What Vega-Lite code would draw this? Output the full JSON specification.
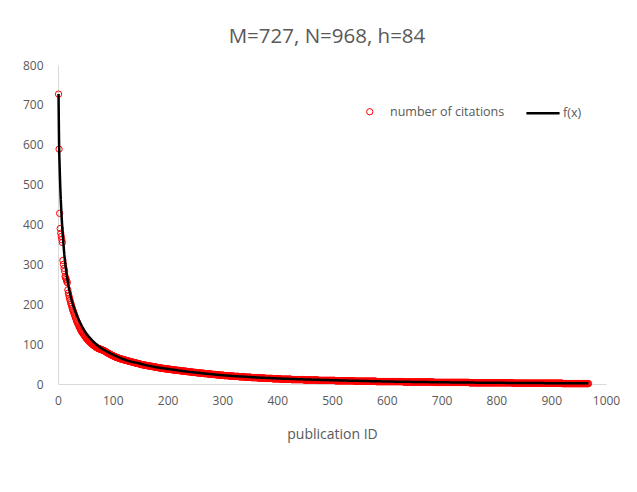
{
"$schema": "https://vega.github.io/schema/vega-lite/v6.json",
"width": 548, "height": 319,
"autosize": "none",
"padding": {"left": 58, "top": 65, "right": 31, "bottom": 108},
"background": "white",
"config": {"view": {"stroke": null}, "font": "Open Sans", "axisY": {"labelOverlap": false}, "axisX": {"labelOverlap": false}},
"title": {"text": "M=727, N=968, h=84", "fontSize": 20.5, "fontWeight": "normal", "color": "#595959", "font": "Open Sans", "anchor": "middle", "frame": "group", "baseline": "alphabetic", "offset": -4, "dx": -5},
"datasets": {
"cit": [
{"i":1,"c":727},{"i":2,"c":589},{"i":3,"c":428},{"i":4,"c":390},{"i":5,"c":378},{"i":6,"c":370},{"i":7,"c":362},{"i":8,"c":355},{"i":9,"c":310},{"i":10,"c":300},
{"i":11,"c":290},{"i":12,"c":283},{"i":13,"c":270},{"i":14,"c":266},{"i":15,"c":262},{"i":16,"c":258},{"i":17,"c":254},{"i":18,"c":236},{"i":19,"c":228},{"i":20,"c":221},
{"i":21,"c":215},{"i":22,"c":210},{"i":23,"c":204},{"i":24,"c":200},{"i":25,"c":195},{"i":26,"c":190},{"i":27,"c":186},{"i":28,"c":182},{"i":29,"c":178},{"i":30,"c":174},
{"i":31,"c":170},{"i":32,"c":166},{"i":33,"c":162},{"i":34,"c":158},{"i":35,"c":155},{"i":36,"c":152},{"i":37,"c":149},{"i":38,"c":146},{"i":39,"c":143},{"i":40,"c":140},
{"i":41,"c":137},{"i":42,"c":134},{"i":43,"c":132},{"i":44,"c":130},{"i":45,"c":128},{"i":46,"c":126},{"i":47,"c":124},{"i":48,"c":122},{"i":49,"c":120},{"i":50,"c":118},
{"i":51,"c":116},{"i":52,"c":114},{"i":53,"c":113},{"i":54,"c":111},{"i":55,"c":110},{"i":56,"c":108},{"i":57,"c":107},{"i":58,"c":105},{"i":59,"c":104},{"i":60,"c":103},
{"i":61,"c":102},{"i":62,"c":100},{"i":63,"c":99},{"i":64,"c":98},{"i":65,"c":97},{"i":66,"c":96},{"i":67,"c":95},{"i":68,"c":94},{"i":69,"c":93},{"i":70,"c":92},
{"i":71,"c":91},{"i":72,"c":90},{"i":73,"c":90},{"i":74,"c":89},{"i":75,"c":88},{"i":76,"c":88},{"i":77,"c":87},{"i":78,"c":87},{"i":79,"c":86},{"i":80,"c":86},
{"i":81,"c":85},{"i":82,"c":85},{"i":83,"c":84},{"i":84,"c":84},{"i":85,"c":83},{"i":86,"c":82},{"i":87,"c":81},{"i":88,"c":80},{"i":89,"c":79},{"i":90,"c":78},
{"i":91,"c":78},{"i":92,"c":77},{"i":93,"c":76},{"i":94,"c":75},{"i":95,"c":75},{"i":96,"c":74},{"i":97,"c":73},{"i":98,"c":72},{"i":99,"c":72},{"i":100,"c":71},
{"i":101,"c":70},{"i":102,"c":70},{"i":103,"c":69},{"i":104,"c":68},{"i":105,"c":68},{"i":106,"c":67},{"i":107,"c":67},{"i":108,"c":66},{"i":109,"c":66},{"i":110,"c":65},
{"i":111,"c":65},{"i":112,"c":64},{"i":113,"c":64},{"i":114,"c":63},{"i":115,"c":63},{"i":116,"c":62},{"i":117,"c":62},{"i":118,"c":62},{"i":119,"c":61},{"i":120,"c":61},
{"i":121,"c":60},{"i":122,"c":60},{"i":123,"c":60},{"i":124,"c":59},{"i":125,"c":59},{"i":126,"c":59},{"i":127,"c":58},{"i":128,"c":58},{"i":129,"c":57},{"i":130,"c":57},
{"i":131,"c":57},{"i":132,"c":56},{"i":133,"c":56},{"i":134,"c":56},{"i":135,"c":55},{"i":136,"c":55},{"i":137,"c":54},{"i":138,"c":54},{"i":139,"c":54},{"i":140,"c":53},
{"i":141,"c":53},{"i":142,"c":53},{"i":143,"c":52},{"i":144,"c":52},{"i":145,"c":52},{"i":146,"c":51},{"i":147,"c":51},{"i":148,"c":51},{"i":149,"c":50},{"i":150,"c":50},
{"i":151,"c":49},{"i":152,"c":49},{"i":153,"c":49},{"i":154,"c":48},{"i":155,"c":48},{"i":156,"c":48},{"i":157,"c":48},{"i":158,"c":47},{"i":159,"c":47},{"i":160,"c":47},
{"i":161,"c":47},{"i":162,"c":46},{"i":163,"c":46},{"i":164,"c":46},{"i":165,"c":46},{"i":166,"c":45},{"i":167,"c":45},{"i":168,"c":45},{"i":169,"c":45},{"i":170,"c":44},
{"i":171,"c":44},{"i":172,"c":44},{"i":173,"c":44},{"i":174,"c":43},{"i":175,"c":43},{"i":176,"c":43},{"i":177,"c":43},{"i":178,"c":42},{"i":179,"c":42},{"i":180,"c":42},
{"i":181,"c":42},{"i":182,"c":41},{"i":183,"c":41},{"i":184,"c":41},{"i":185,"c":41},{"i":186,"c":40},{"i":187,"c":40},{"i":188,"c":40},{"i":189,"c":40},{"i":190,"c":39},
{"i":191,"c":39},{"i":192,"c":39},{"i":193,"c":39},{"i":194,"c":39},{"i":195,"c":38},{"i":196,"c":38},{"i":197,"c":38},{"i":198,"c":38},{"i":199,"c":38},{"i":200,"c":38},
{"i":201,"c":37},{"i":202,"c":37},{"i":203,"c":37},{"i":204,"c":37},{"i":205,"c":37},{"i":206,"c":36},{"i":207,"c":36},{"i":208,"c":36},{"i":209,"c":36},{"i":210,"c":36},
{"i":211,"c":35},{"i":212,"c":35},{"i":213,"c":35},{"i":214,"c":35},{"i":215,"c":35},{"i":216,"c":35},{"i":217,"c":34},{"i":218,"c":34},{"i":219,"c":34},{"i":220,"c":34},
{"i":221,"c":34},{"i":222,"c":34},{"i":223,"c":33},{"i":224,"c":33},{"i":225,"c":33},{"i":226,"c":33},{"i":227,"c":33},{"i":228,"c":33},{"i":229,"c":32},{"i":230,"c":32},
{"i":231,"c":32},{"i":232,"c":32},{"i":233,"c":32},{"i":234,"c":32},{"i":235,"c":31},{"i":236,"c":31},{"i":237,"c":31},{"i":238,"c":31},{"i":239,"c":31},{"i":240,"c":31},
{"i":241,"c":30},{"i":242,"c":30},{"i":243,"c":30},{"i":244,"c":30},{"i":245,"c":30},{"i":246,"c":30},{"i":247,"c":29},{"i":248,"c":29},{"i":249,"c":29},{"i":250,"c":29},
{"i":251,"c":29},{"i":252,"c":29},{"i":253,"c":28},{"i":254,"c":28},{"i":255,"c":28},{"i":256,"c":28},{"i":257,"c":28},{"i":258,"c":28},{"i":259,"c":28},{"i":260,"c":27},
{"i":261,"c":27},{"i":262,"c":27},{"i":263,"c":27},{"i":264,"c":27},{"i":265,"c":27},{"i":266,"c":27},{"i":267,"c":26},{"i":268,"c":26},{"i":269,"c":26},{"i":270,"c":26},
{"i":271,"c":26},{"i":272,"c":26},{"i":273,"c":26},{"i":274,"c":25},{"i":275,"c":25},{"i":276,"c":25},{"i":277,"c":25},{"i":278,"c":25},{"i":279,"c":25},{"i":280,"c":25},
{"i":281,"c":24},{"i":282,"c":24},{"i":283,"c":24},{"i":284,"c":24},{"i":285,"c":24},{"i":286,"c":24},{"i":287,"c":24},{"i":288,"c":23},{"i":289,"c":23},{"i":290,"c":23},
{"i":291,"c":23},{"i":292,"c":23},{"i":293,"c":23},{"i":294,"c":23},{"i":295,"c":22},{"i":296,"c":22},{"i":297,"c":22},{"i":298,"c":22},{"i":299,"c":22},{"i":300,"c":22},
{"i":301,"c":22},{"i":302,"c":22},{"i":303,"c":21},{"i":304,"c":21},{"i":305,"c":21},{"i":306,"c":21},{"i":307,"c":21},{"i":308,"c":21},{"i":309,"c":21},{"i":310,"c":21},
{"i":311,"c":21},{"i":312,"c":20},{"i":313,"c":20},{"i":314,"c":20},{"i":315,"c":20},{"i":316,"c":20},{"i":317,"c":20},{"i":318,"c":20},{"i":319,"c":20},{"i":320,"c":20},
{"i":321,"c":19},{"i":322,"c":19},{"i":323,"c":19},{"i":324,"c":19},{"i":325,"c":19},{"i":326,"c":19},{"i":327,"c":19},{"i":328,"c":19},{"i":329,"c":19},{"i":330,"c":19},
{"i":331,"c":18},{"i":332,"c":18},{"i":333,"c":18},{"i":334,"c":18},{"i":335,"c":18},{"i":336,"c":18},{"i":337,"c":18},{"i":338,"c":18},{"i":339,"c":18},{"i":340,"c":18},
{"i":341,"c":18},{"i":342,"c":17},{"i":343,"c":17},{"i":344,"c":17},{"i":345,"c":17},{"i":346,"c":17},{"i":347,"c":17},{"i":348,"c":17},{"i":349,"c":17},{"i":350,"c":17},
{"i":351,"c":17},{"i":352,"c":17},{"i":353,"c":16},{"i":354,"c":16},{"i":355,"c":16},{"i":356,"c":16},{"i":357,"c":16},{"i":358,"c":16},{"i":359,"c":16},{"i":360,"c":16},
{"i":361,"c":16},{"i":362,"c":16},{"i":363,"c":16},{"i":364,"c":16},{"i":365,"c":15},{"i":366,"c":15},{"i":367,"c":15},{"i":368,"c":15},{"i":369,"c":15},{"i":370,"c":15},
{"i":371,"c":15},{"i":372,"c":15},{"i":373,"c":15},{"i":374,"c":15},{"i":375,"c":15},{"i":376,"c":15},{"i":377,"c":15},{"i":378,"c":14},{"i":379,"c":14},{"i":380,"c":14},
{"i":381,"c":14},{"i":382,"c":14},{"i":383,"c":14},{"i":384,"c":14},{"i":385,"c":14},{"i":386,"c":14},{"i":387,"c":14},{"i":388,"c":14},{"i":389,"c":14},{"i":390,"c":14},
{"i":391,"c":14},{"i":392,"c":13},{"i":393,"c":13},{"i":394,"c":13},{"i":395,"c":13},{"i":396,"c":13},{"i":397,"c":13},{"i":398,"c":13},{"i":399,"c":13},{"i":400,"c":13},
{"i":401,"c":13},{"i":402,"c":13},{"i":403,"c":13},{"i":404,"c":13},{"i":405,"c":13},{"i":406,"c":12},{"i":407,"c":12},{"i":408,"c":12},{"i":409,"c":12},{"i":410,"c":12},
{"i":411,"c":12},{"i":412,"c":12},{"i":413,"c":12},{"i":414,"c":12},{"i":415,"c":12},{"i":416,"c":12},{"i":417,"c":12},{"i":418,"c":12},{"i":419,"c":12},{"i":420,"c":12},
{"i":421,"c":12},{"i":422,"c":12},{"i":423,"c":12},{"i":424,"c":12},{"i":425,"c":12},{"i":426,"c":11},{"i":427,"c":11},{"i":428,"c":11},{"i":429,"c":11},{"i":430,"c":11},
{"i":431,"c":11},{"i":432,"c":11},{"i":433,"c":11},{"i":434,"c":11},{"i":435,"c":11},{"i":436,"c":11},{"i":437,"c":11},{"i":438,"c":11},{"i":439,"c":11},{"i":440,"c":11},
{"i":441,"c":11},{"i":442,"c":11},{"i":443,"c":11},{"i":444,"c":11},{"i":445,"c":11},{"i":446,"c":11},{"i":447,"c":11},{"i":448,"c":11},{"i":449,"c":10},{"i":450,"c":10},
{"i":451,"c":10},{"i":452,"c":10},{"i":453,"c":10},{"i":454,"c":10},{"i":455,"c":10},{"i":456,"c":10},{"i":457,"c":10},{"i":458,"c":10},{"i":459,"c":10},{"i":460,"c":10},
{"i":461,"c":10},{"i":462,"c":10},{"i":463,"c":10},{"i":464,"c":10},{"i":465,"c":10},{"i":466,"c":10},{"i":467,"c":10},{"i":468,"c":10},{"i":469,"c":10},{"i":470,"c":10},
{"i":471,"c":10},{"i":472,"c":10},{"i":473,"c":10},{"i":474,"c":10},{"i":475,"c":9},{"i":476,"c":9},{"i":477,"c":9},{"i":478,"c":9},{"i":479,"c":9},{"i":480,"c":9},
{"i":481,"c":9},{"i":482,"c":9},{"i":483,"c":9},{"i":484,"c":9},{"i":485,"c":9},{"i":486,"c":9},{"i":487,"c":9},{"i":488,"c":9},{"i":489,"c":9},{"i":490,"c":9},
{"i":491,"c":9},{"i":492,"c":9},{"i":493,"c":9},{"i":494,"c":9},{"i":495,"c":9},{"i":496,"c":9},{"i":497,"c":9},{"i":498,"c":9},{"i":499,"c":9},{"i":500,"c":9},
{"i":501,"c":9},{"i":502,"c":9},{"i":503,"c":9},{"i":504,"c":9},{"i":505,"c":9},{"i":506,"c":8},{"i":507,"c":8},{"i":508,"c":8},{"i":509,"c":8},{"i":510,"c":8},
{"i":511,"c":8},{"i":512,"c":8},{"i":513,"c":8},{"i":514,"c":8},{"i":515,"c":8},{"i":516,"c":8},{"i":517,"c":8},{"i":518,"c":8},{"i":519,"c":8},{"i":520,"c":8},
{"i":521,"c":8},{"i":522,"c":8},{"i":523,"c":8},{"i":524,"c":8},{"i":525,"c":8},{"i":526,"c":8},{"i":527,"c":8},{"i":528,"c":8},{"i":529,"c":8},{"i":530,"c":8},
{"i":531,"c":8},{"i":532,"c":8},{"i":533,"c":8},{"i":534,"c":8},{"i":535,"c":8},{"i":536,"c":8},{"i":537,"c":8},{"i":538,"c":8},{"i":539,"c":8},{"i":540,"c":8},
{"i":541,"c":7},{"i":542,"c":7},{"i":543,"c":7},{"i":544,"c":7},{"i":545,"c":7},{"i":546,"c":7},{"i":547,"c":7},{"i":548,"c":7},{"i":549,"c":7},{"i":550,"c":7},
{"i":551,"c":7},{"i":552,"c":7},{"i":553,"c":7},{"i":554,"c":7},{"i":555,"c":7},{"i":556,"c":7},{"i":557,"c":7},{"i":558,"c":7},{"i":559,"c":7},{"i":560,"c":7},
{"i":561,"c":7},{"i":562,"c":7},{"i":563,"c":7},{"i":564,"c":7},{"i":565,"c":7},{"i":566,"c":7},{"i":567,"c":7},{"i":568,"c":7},{"i":569,"c":7},{"i":570,"c":7},
{"i":571,"c":7},{"i":572,"c":7},{"i":573,"c":7},{"i":574,"c":7},{"i":575,"c":7},{"i":576,"c":7},{"i":577,"c":7},{"i":578,"c":7},{"i":579,"c":7},{"i":580,"c":7},
{"i":581,"c":6},{"i":582,"c":6},{"i":583,"c":6},{"i":584,"c":6},{"i":585,"c":6},{"i":586,"c":6},{"i":587,"c":6},{"i":588,"c":6},{"i":589,"c":6},{"i":590,"c":6},
{"i":591,"c":6},{"i":592,"c":6},{"i":593,"c":6},{"i":594,"c":6},{"i":595,"c":6},{"i":596,"c":6},{"i":597,"c":6},{"i":598,"c":6},{"i":599,"c":6},{"i":600,"c":6},
{"i":601,"c":6},{"i":602,"c":6},{"i":603,"c":6},{"i":604,"c":6},{"i":605,"c":6},{"i":606,"c":6},{"i":607,"c":6},{"i":608,"c":6},{"i":609,"c":6},{"i":610,"c":6},
{"i":611,"c":6},{"i":612,"c":6},{"i":613,"c":6},{"i":614,"c":6},{"i":615,"c":6},{"i":616,"c":6},{"i":617,"c":6},{"i":618,"c":6},{"i":619,"c":6},{"i":620,"c":6},
{"i":621,"c":6},{"i":622,"c":6},{"i":623,"c":6},{"i":624,"c":6},{"i":625,"c":6},{"i":626,"c":6},{"i":627,"c":6},{"i":628,"c":6},{"i":629,"c":6},{"i":630,"c":6},
{"i":631,"c":5},{"i":632,"c":5},{"i":633,"c":5},{"i":634,"c":5},{"i":635,"c":5},{"i":636,"c":5},{"i":637,"c":5},{"i":638,"c":5},{"i":639,"c":5},{"i":640,"c":5},
{"i":641,"c":5},{"i":642,"c":5},{"i":643,"c":5},{"i":644,"c":5},{"i":645,"c":5},{"i":646,"c":5},{"i":647,"c":5},{"i":648,"c":5},{"i":649,"c":5},{"i":650,"c":5},
{"i":651,"c":5},{"i":652,"c":5},{"i":653,"c":5},{"i":654,"c":5},{"i":655,"c":5},{"i":656,"c":5},{"i":657,"c":5},{"i":658,"c":5},{"i":659,"c":5},{"i":660,"c":5},
{"i":661,"c":5},{"i":662,"c":5},{"i":663,"c":5},{"i":664,"c":5},{"i":665,"c":5},{"i":666,"c":5},{"i":667,"c":5},{"i":668,"c":5},{"i":669,"c":5},{"i":670,"c":5},
{"i":671,"c":5},{"i":672,"c":5},{"i":673,"c":5},{"i":674,"c":5},{"i":675,"c":5},{"i":676,"c":5},{"i":677,"c":5},{"i":678,"c":5},{"i":679,"c":5},{"i":680,"c":5},
{"i":681,"c":5},{"i":682,"c":5},{"i":683,"c":5},{"i":684,"c":5},{"i":685,"c":5},{"i":686,"c":4},{"i":687,"c":4},{"i":688,"c":4},{"i":689,"c":4},{"i":690,"c":4},
{"i":691,"c":4},{"i":692,"c":4},{"i":693,"c":4},{"i":694,"c":4},{"i":695,"c":4},{"i":696,"c":4},{"i":697,"c":4},{"i":698,"c":4},{"i":699,"c":4},{"i":700,"c":4},
{"i":701,"c":4},{"i":702,"c":4},{"i":703,"c":4},{"i":704,"c":4},{"i":705,"c":4},{"i":706,"c":4},{"i":707,"c":4},{"i":708,"c":4},{"i":709,"c":4},{"i":710,"c":4},
{"i":711,"c":4},{"i":712,"c":4},{"i":713,"c":4},{"i":714,"c":4},{"i":715,"c":4},{"i":716,"c":4},{"i":717,"c":4},{"i":718,"c":4},{"i":719,"c":4},{"i":720,"c":4},
{"i":721,"c":4},{"i":722,"c":4},{"i":723,"c":4},{"i":724,"c":4},{"i":725,"c":4},{"i":726,"c":4},{"i":727,"c":4},{"i":728,"c":4},{"i":729,"c":4},{"i":730,"c":4},
{"i":731,"c":4},{"i":732,"c":4},{"i":733,"c":4},{"i":734,"c":4},{"i":735,"c":4},{"i":736,"c":4},{"i":737,"c":4},{"i":738,"c":4},{"i":739,"c":4},{"i":740,"c":4},
{"i":741,"c":4},{"i":742,"c":4},{"i":743,"c":4},{"i":744,"c":4},{"i":745,"c":4},{"i":746,"c":4},{"i":747,"c":4},{"i":748,"c":4},{"i":749,"c":4},{"i":750,"c":4},
{"i":751,"c":3},{"i":752,"c":3},{"i":753,"c":3},{"i":754,"c":3},{"i":755,"c":3},{"i":756,"c":3},{"i":757,"c":3},{"i":758,"c":3},{"i":759,"c":3},{"i":760,"c":3},
{"i":761,"c":3},{"i":762,"c":3},{"i":763,"c":3},{"i":764,"c":3},{"i":765,"c":3},{"i":766,"c":3},{"i":767,"c":3},{"i":768,"c":3},{"i":769,"c":3},{"i":770,"c":3},
{"i":771,"c":3},{"i":772,"c":3},{"i":773,"c":3},{"i":774,"c":3},{"i":775,"c":3},{"i":776,"c":3},{"i":777,"c":3},{"i":778,"c":3},{"i":779,"c":3},{"i":780,"c":3},
{"i":781,"c":3},{"i":782,"c":3},{"i":783,"c":3},{"i":784,"c":3},{"i":785,"c":3},{"i":786,"c":3},{"i":787,"c":3},{"i":788,"c":3},{"i":789,"c":3},{"i":790,"c":3},
{"i":791,"c":3},{"i":792,"c":3},{"i":793,"c":3},{"i":794,"c":3},{"i":795,"c":3},{"i":796,"c":3},{"i":797,"c":3},{"i":798,"c":3},{"i":799,"c":3},{"i":800,"c":3},
{"i":801,"c":3},{"i":802,"c":3},{"i":803,"c":3},{"i":804,"c":3},{"i":805,"c":3},{"i":806,"c":3},{"i":807,"c":3},{"i":808,"c":3},{"i":809,"c":3},{"i":810,"c":3},
{"i":811,"c":3},{"i":812,"c":3},{"i":813,"c":3},{"i":814,"c":3},{"i":815,"c":3},{"i":816,"c":3},{"i":817,"c":3},{"i":818,"c":3},{"i":819,"c":3},{"i":820,"c":3},
{"i":821,"c":3},{"i":822,"c":3},{"i":823,"c":3},{"i":824,"c":3},{"i":825,"c":3},{"i":826,"c":3},{"i":827,"c":3},{"i":828,"c":3},{"i":829,"c":3},{"i":830,"c":3},
{"i":831,"c":2},{"i":832,"c":2},{"i":833,"c":2},{"i":834,"c":2},{"i":835,"c":2},{"i":836,"c":2},{"i":837,"c":2},{"i":838,"c":2},{"i":839,"c":2},{"i":840,"c":2},
{"i":841,"c":2},{"i":842,"c":2},{"i":843,"c":2},{"i":844,"c":2},{"i":845,"c":2},{"i":846,"c":2},{"i":847,"c":2},{"i":848,"c":2},{"i":849,"c":2},{"i":850,"c":2},
{"i":851,"c":2},{"i":852,"c":2},{"i":853,"c":2},{"i":854,"c":2},{"i":855,"c":2},{"i":856,"c":2},{"i":857,"c":2},{"i":858,"c":2},{"i":859,"c":2},{"i":860,"c":2},
{"i":861,"c":2},{"i":862,"c":2},{"i":863,"c":2},{"i":864,"c":2},{"i":865,"c":2},{"i":866,"c":2},{"i":867,"c":2},{"i":868,"c":2},{"i":869,"c":2},{"i":870,"c":2},
{"i":871,"c":2},{"i":872,"c":2},{"i":873,"c":2},{"i":874,"c":2},{"i":875,"c":2},{"i":876,"c":2},{"i":877,"c":2},{"i":878,"c":2},{"i":879,"c":2},{"i":880,"c":2},
{"i":881,"c":2},{"i":882,"c":2},{"i":883,"c":2},{"i":884,"c":2},{"i":885,"c":2},{"i":886,"c":2},{"i":887,"c":2},{"i":888,"c":2},{"i":889,"c":2},{"i":890,"c":2},
{"i":891,"c":2},{"i":892,"c":2},{"i":893,"c":2},{"i":894,"c":2},{"i":895,"c":2},{"i":896,"c":2},{"i":897,"c":2},{"i":898,"c":2},{"i":899,"c":2},{"i":900,"c":2},
{"i":901,"c":2},{"i":902,"c":2},{"i":903,"c":2},{"i":904,"c":2},{"i":905,"c":2},{"i":906,"c":2},{"i":907,"c":2},{"i":908,"c":2},{"i":909,"c":2},{"i":910,"c":2},
{"i":911,"c":2},{"i":912,"c":2},{"i":913,"c":2},{"i":914,"c":2},{"i":915,"c":2},{"i":916,"c":2},{"i":917,"c":2},{"i":918,"c":2},{"i":919,"c":2},{"i":920,"c":2},
{"i":921,"c":1},{"i":922,"c":1},{"i":923,"c":1},{"i":924,"c":1},{"i":925,"c":1},{"i":926,"c":1},{"i":927,"c":1},{"i":928,"c":1},{"i":929,"c":1},{"i":930,"c":1},
{"i":931,"c":1},{"i":932,"c":1},{"i":933,"c":1},{"i":934,"c":1},{"i":935,"c":1},{"i":936,"c":1},{"i":937,"c":1},{"i":938,"c":1},{"i":939,"c":1},{"i":940,"c":1},
{"i":941,"c":1},{"i":942,"c":1},{"i":943,"c":1},{"i":944,"c":1},{"i":945,"c":1},{"i":946,"c":1},{"i":947,"c":1},{"i":948,"c":1},{"i":949,"c":1},{"i":950,"c":1},
{"i":951,"c":1},{"i":952,"c":1},{"i":953,"c":1},{"i":954,"c":1},{"i":955,"c":1},{"i":956,"c":1},{"i":957,"c":1},{"i":958,"c":1},{"i":959,"c":1},{"i":960,"c":1},
{"i":961,"c":1},{"i":962,"c":1},{"i":963,"c":1},{"i":964,"c":1},{"i":965,"c":1},{"i":966,"c":1},{"i":967,"c":1},{"i":968,"c":1}
],
"fit": [
{"i":1,"f":727},{"i":2,"f":600},{"i":3,"f":545},{"i":4,"f":500},{"i":5,"f":465},{"i":6,"f":435},{"i":7,"f":410},{"i":8,"f":388},{"i":10,"f":350},{"i":12,"f":318},
{"i":15,"f":283},{"i":20,"f":240},{"i":26,"f":205},{"i":30,"f":188},{"i":40,"f":155},{"i":50,"f":130},{"i":60,"f":113},{"i":70,"f":99},{"i":80,"f":89},{"i":90,"f":81},
{"i":100,"f":74},{"i":120,"f":62},{"i":150,"f":51},{"i":180,"f":42},{"i":200,"f":38},{"i":225,"f":33},{"i":250,"f":29},{"i":300,"f":22},{"i":350,"f":17.5},{"i":400,"f":14},
{"i":450,"f":11.5},{"i":500,"f":9.5},{"i":550,"f":7.8},{"i":600,"f":6.3},{"i":650,"f":5.2},{"i":700,"f":4.3},{"i":750,"f":3.6},{"i":800,"f":3},{"i":850,"f":2.5},{"i":900,"f":2.1},
{"i":950,"f":1.7},{"i":968,"f":1.6}
]
},
"encoding": {
"x": {"field": "i", "type": "quantitative", "scale": {"domain": [0, 1000], "nice": false, "zero": true},
"axis": {"title": "publication ID", "titleFontSize": 14, "titleFontWeight": "normal", "titleColor": "#595959", "titleFont": "Open Sans", "titlePadding": 21, "values": [0,100,200,300,400,500,600,700,800,900,1000], "format": "d", "labelOverlap": false, "labelFontSize": 12, "labelColor": "#595959", "labelFont": "Open Sans", "labelPadding": 11, "ticks": false, "tickSize": 0, "grid": false, "domainColor": "#d9d9d9", "domainWidth": 1, "labelFlush": false}}
},
"layer": [
{
"data": {"name": "cit"},
"mark": {"type": "point", "filled": false, "stroke": "#ff0000", "strokeWidth": 1, "size": 40, "opacity": 1},
"encoding": {
"y": {"field": "c", "type": "quantitative", "scale": {"domain": [0, 800], "nice": false},
"axis": {"title": null, "values": [0,100,200,300,400,500,600,700,800], "format": "d", "labelOverlap": false, "labelFontSize": 12, "labelColor": "#595959", "labelFont": "Open Sans", "labelPadding": 15, "ticks": false, "tickSize": 0, "grid": false, "domainColor": "#d9d9d9", "domainWidth": 1, "labelFlush": false}},
"shape": {"datum": "number of citations", "scale": {"range": ["circle"]},
"legend": {"title": null, "orient": "none", "legendX": 305.5, "legendY": 40.5, "padding": 0, "labelFontSize": 12.5, "labelColor": "#595959", "labelFont": "Open Sans", "symbolStrokeColor": "#ff0000", "symbolFillColor": "transparent", "symbolSize": 40, "symbolStrokeWidth": 1, "labelOffset": 14}}
}
},
{
"data": {"name": "fit"},
"mark": {"type": "line", "color": "black", "strokeWidth": 2.5, "interpolate": "monotone"},
"encoding": {
"y": {"field": "f", "type": "quantitative", "scale": {"domain": [0, 800], "nice": false},
"axis": {"title": null, "values": [0,100,200,300,400,500,600,700,800], "format": "d", "labelOverlap": false, "labelFontSize": 12, "labelColor": "#595959", "labelFont": "Open Sans", "labelPadding": 15, "ticks": false, "tickSize": 0, "grid": false, "domainColor": "#d9d9d9", "domainWidth": 1, "labelFlush": false}},
"strokeDash": {"datum": "f(x)", "scale": {"range": [[1, 0]]},
"legend": {"title": null, "orient": "none", "legendX": 467, "legendY": 30.25, "padding": 0, "labelFontSize": 12.5, "labelColor": "#595959", "labelFont": "Open Sans", "symbolType": "stroke", "symbolStrokeColor": "black", "symbolStrokeWidth": 2.5, "symbolSize": 1100, "labelOffset": 2}}
}
}
]
}
